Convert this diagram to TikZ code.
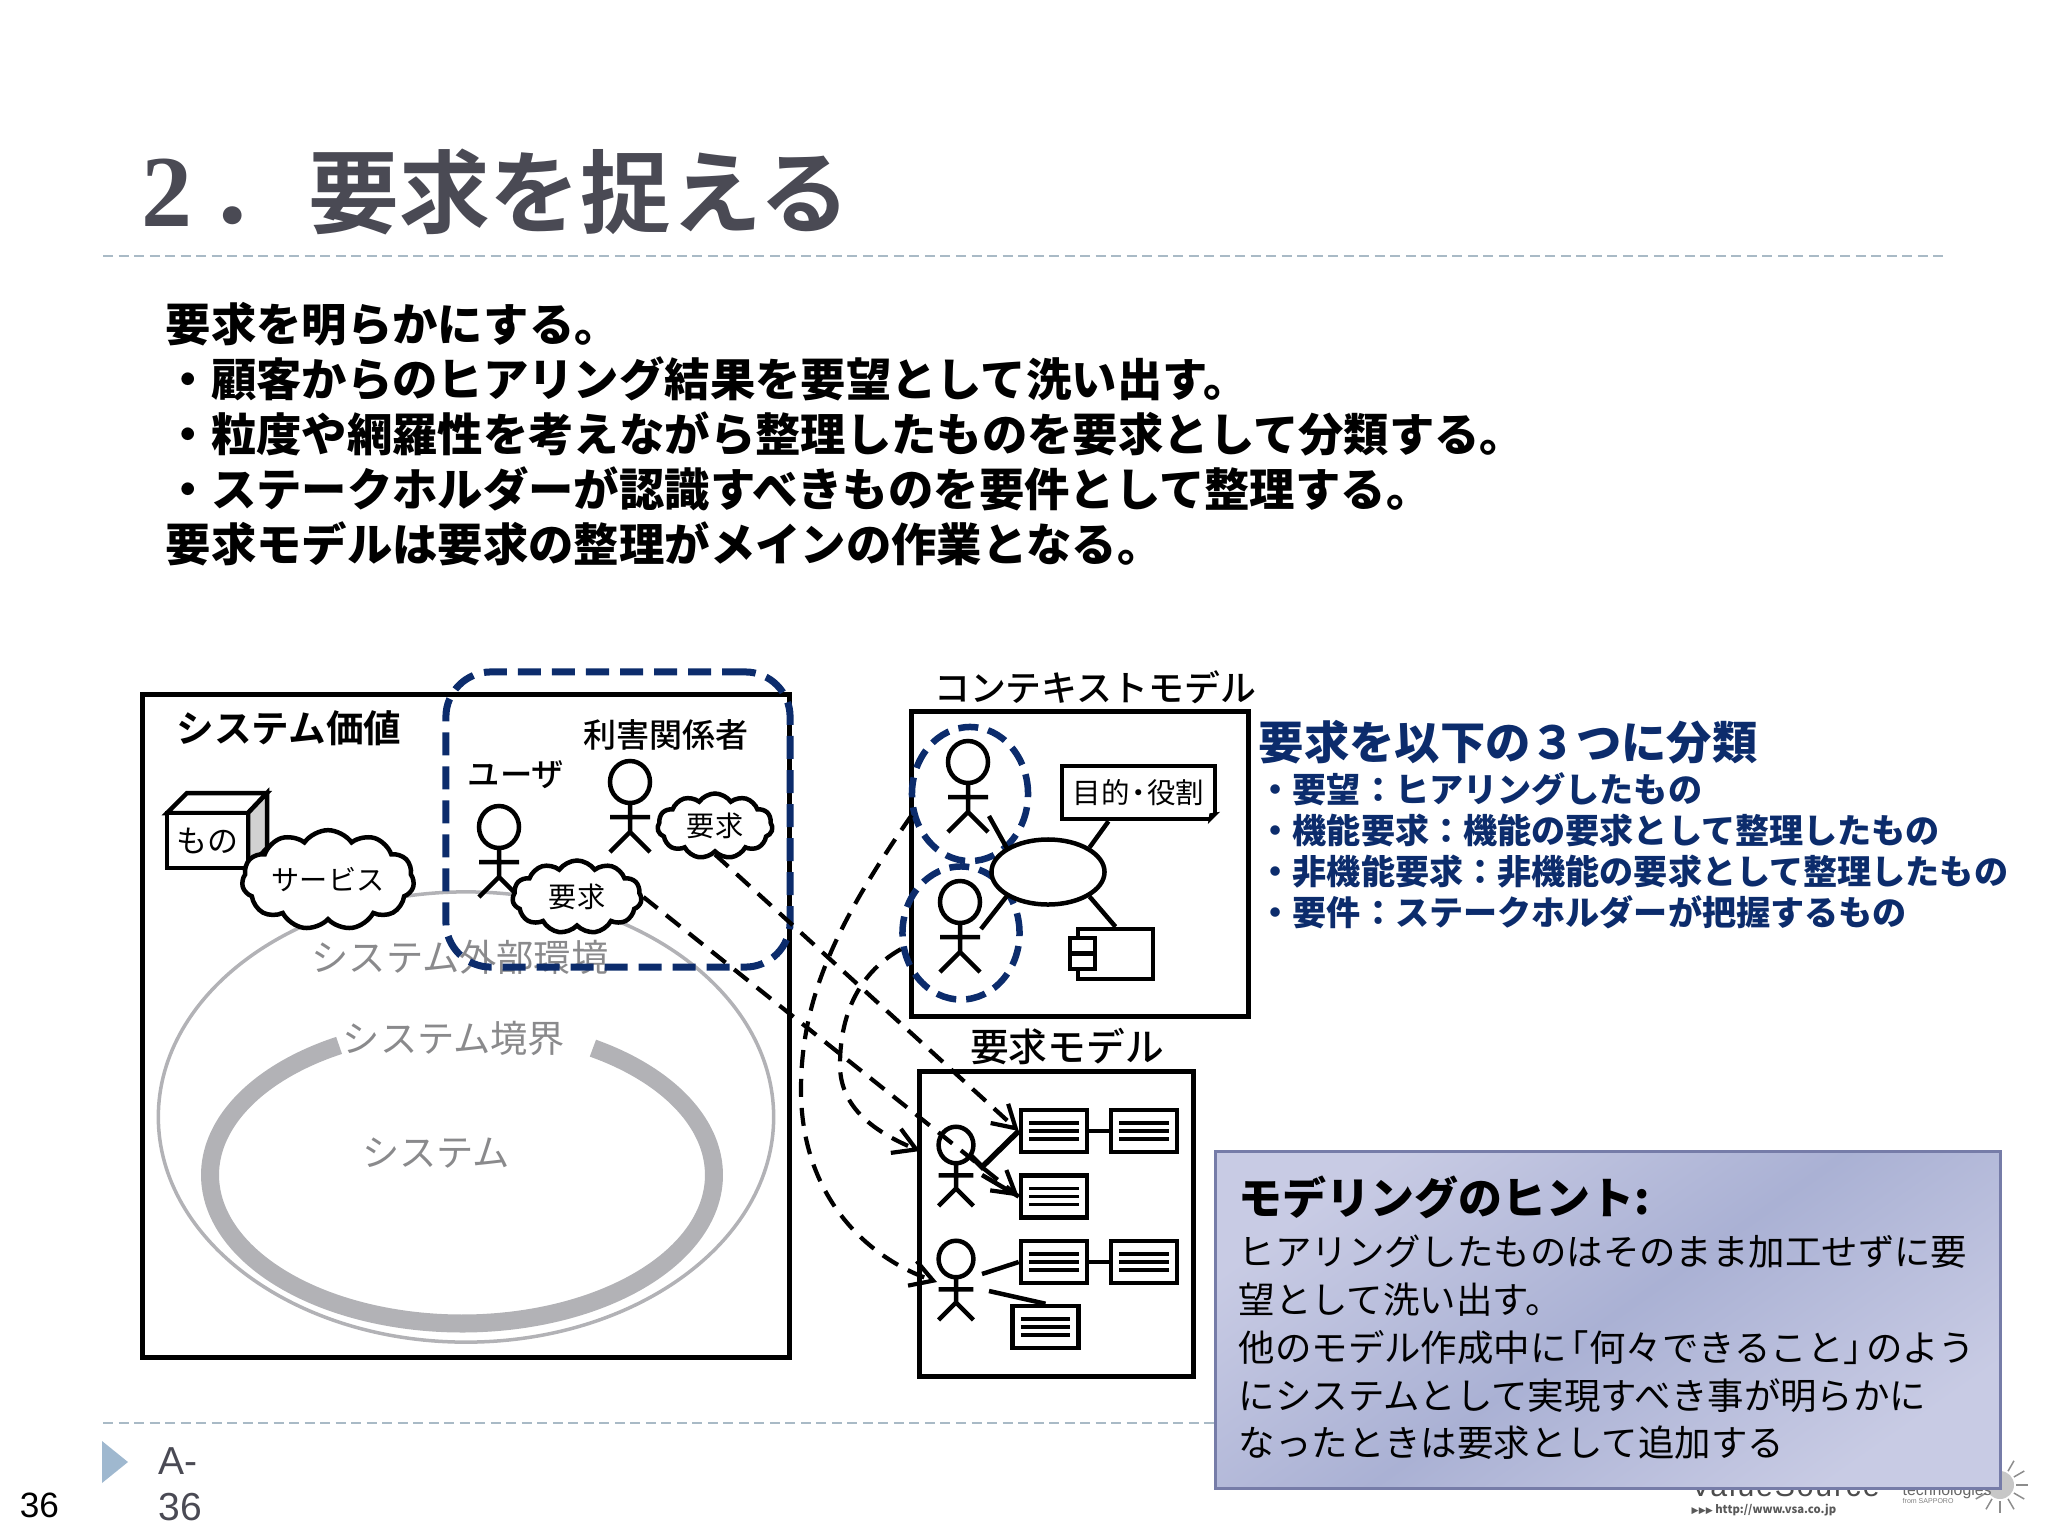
\documentclass[tikz,border=0pt]{standalone}
\usepackage{fontspec}
\setmainfont{Noto Sans CJK JP}
\newfontfamily\heavyjp{Noto Sans CJK JP Black}
\newfontfamily\boldjp{Noto Sans CJK JP Bold}
\newfontfamily\mediumjp{Noto Sans CJK JP Medium}
\newfontfamily\arialish{Liberation Sans}
\newfontfamily\serifnum{Liberation Serif Bold}
\newfontfamily\symfont{DejaVu Sans}
\usepackage{xcolor}
\definecolor{deepnavy}{RGB}{12,44,108}
\definecolor{titlegray}{RGB}{74,74,84}
\definecolor{rulegray}{RGB}{169,186,198}
\definecolor{markblue}{RGB}{159,184,207}
\definecolor{ringgray}{RGB}{178,178,182}
\definecolor{capgray}{RGB}{138,138,140}
\definecolor{tiplight}{RGB}{200,203,228}
\definecolor{tipdark}{RGB}{170,177,212}
\definecolor{tipedge}{RGB}{118,124,168}
\newcommand{\pxfont}[2]{\fontsize{#1pt}{#2pt}\selectfont}
\usetikzlibrary{
  shapes.geometric,
  shapes.symbols,
  arrows.meta,
  positioning
}

\begin{document}
\begin{tikzpicture}[
  x=0.01cm, y=-0.01cm,
  every node/.append style={inner sep=0pt},
  ln/.style={line width=0.045cm, black},
  rulerline/.style={rulegray, line width=0.025cm, dash pattern=on 0.1cm off 0.055cm},
  modelbox/.style={rectangle, draw=black, line width=0.05cm, minimum width=#1},
  navyring/.style={ellipse, draw=deepnavy, line width=0.065cm, dash pattern=on 0.2cm off 0.1cm},
  speech/.style={cloud, cloud puffs=11, cloud puff arc=110, aspect=2, draw=black, fill=white, line width=0.045cm, font=\pxfont{8}{10}},
  reqdoc/.style={rectangle, draw=black, fill=white, line width=0.045cm, minimum width=0.66cm, minimum height=0.42cm,
    path picture={\foreach \dy in {-0.08,0,0.08}
      \draw[black, line width=0.035cm] ([xshift=-0.245cm,yshift=\dy cm]path picture bounding box.center) -- ++(0.49cm,0);}},
  dasharr/.style={-{Straight Barb[length=0.22cm,width=0.26cm]}, line width=0.042cm, black, dash pattern=on 0.18cm off 0.11cm},
  graycap/.style={capgray, font=\pxfont{10.6}{12}},
  actor/.pic={
    \draw[ln] (0,0) ellipse[x radius=20,y radius=21];
    \draw[ln] (0,21) -- (0,50) (-20,35) -- (20,35) (-20,70) -- (0,50) -- (20,70);
  }
]
  \useasboundingbox (0,0) rectangle (2048,1536);

  % header
  \node[anchor=west, titlegray, font=\boldjp\pxfont{25.8}{30}] (title) at (141,192)
    {{\serifnum\pxfont{29}{30}2}\hspace{0.15cm}．\hspace{0.1cm}要求を捉える};
  \coordinate (rulela) at (103,256);
  \coordinate (rulera) at (1947,256);
  \draw[rulerline] (rulela) -- (rulera);

  \node[anchor=west, align=left, font=\heavyjp\pxfont{12.9}{15.65}] (intro) at (165,434)
    {要求を明らかにする。\\
     ・顧客からのヒアリング結果を要望として洗い出す。\\
     ・粒度や網羅性を考えながら整理したものを要求として分類する。\\
     ・ステークホルダーが認識すべきものを要件として整理する。\\
     要求モデルは要求の整理がメインの作業となる。};

  % system value
  \node[ellipse, draw=ringgray, line width=0.035cm, minimum width=6.15cm, minimum height=4.5cm] (outside) at (466,1117) {};
  \draw[ringgray, line width=0.18cm] plot[domain=-58.7:240.8, samples=90, smooth] ({462+252*cos(\x)},{1175+148.5*sin(\x)});
  \node[graycap] (outsidecap) at (460,957) {システム外部環境};
  \node[graycap] (bordercap) at (454,1038) {システム境界};
  \node[graycap] (syscap) at (436,1153) {システム};

  \node[modelbox=6.46cm, minimum height=6.63cm] (valuebox) at (466,1026) {};
  \node[font=\boldjp\pxfont{10.7}{12}] (valuecap) at (289,728) {システム価値};

  \draw[ln, fill=white] (167,813) -- (187,793) -- (267,793) -- (248,813) -- cycle;
  \draw[ln, fill=black!18] (248,813) -- (267,793) -- (267,848) -- (248,868) -- cycle;
  \node[rectangle, draw=black, fill=white, line width=0.045cm, minimum width=0.81cm, minimum height=0.55cm, font=\pxfont{8.8}{10}] (thing) at (207.5,840.5) {もの};

  \node[font=\mediumjp\pxfont{9.4}{11}] (stakecap) at (666,735) {利害関係者};
  \node[font=\mediumjp\pxfont{9.2}{11}] (usercap) at (516,775) {ユーザ};
  \pic (usera) at (499,827) {actor};
  \pic (stakea) at (630,782) {actor};

  \node[speech, minimum width=1.72cm, minimum height=0.74cm] (service) at (328,880) {サービス};
  \node[speech, minimum width=1.29cm, minimum height=0.73cm] (reqa) at (577,897) {要求};
  \node[speech, minimum width=1.15cm, minimum height=0.65cm] (reqb) at (715,826) {要求};

  \node[rectangle, draw=deepnavy, line width=0.07cm, rounded corners=0.45cm, dash pattern=on 0.23cm off 0.11cm,
    minimum width=3.44cm, minimum height=2.95cm] (stakeholders) at (618,819.5) {};

  % context model
  \node[modelbox=3.36cm, minimum height=3.04cm] (ctxbox) at (1080,864) {};
  \node[font=\mediumjp\pxfont{10.2}{12}] (ctxcap) at (1095,687) {コンテキストモデル};
  \pic (ctxa) at (968,762) {actor};
  \pic (ctxb) at (960,902) {actor};
  \node[navyring, minimum width=1.16cm, minimum height=1.34cm] (ringa) at (970,794) {};
  \node[navyring, minimum width=1.17cm, minimum height=1.33cm] (ringb) at (961,933) {};
  \node[ellipse, draw=black, fill=white, line width=0.045cm, minimum width=1.13cm, minimum height=0.65cm] (usecase) at (1048,872) {};
  \node[rectangle, draw=black, fill=white, line width=0.045cm, minimum width=1.53cm, minimum height=0.53cm, font=\pxfont{8.1}{10}] (goal) at (1138.5,792.5) {目的\kern-.2em・\kern-.2em役割};
  \fill[white] ([xshift=-0.08cm]goal.south east) -- (goal.south east) -- ([yshift=0.08cm]goal.south east) -- cycle;
  \draw[black, fill=black, line width=0.02cm] ([xshift=-0.08cm]goal.south east) -- ([yshift=0.08cm]goal.south east) -- ([shift={(-0.07cm,0.07cm)}]goal.south east) -- cycle;
  \node[rectangle, draw=black, line width=0.045cm, minimum width=0.75cm, minimum height=0.5cm] (comp) at (1115.5,954) {};
  \node[rectangle, draw=black, fill=white, line width=0.045cm, minimum width=0.25cm, minimum height=0.155cm] (compa) at (1082.5,945.5) {};
  \node[rectangle, draw=black, fill=white, line width=0.045cm, minimum width=0.25cm, minimum height=0.155cm] (compb) at (1082.5,961) {};

  \coordinate (ctxahand) at (989,816);
  \coordinate (ctxbhand) at (981,929);
  \draw[ln] (ctxahand) -- (usecase.north west);
  \draw[ln] (ctxbhand) -- (usecase.south west);
  \draw[ln] ([xshift=-0.3cm]goal.south) -- (usecase.north east);
  \draw[ln] (usecase.south east) -- (comp.north);

  % requirement model
  \node[modelbox=2.73cm, minimum height=3.04cm] (reqbox) at (1056.5,1224) {};
  \node[font=\mediumjp\pxfont{11}{12}] (reqcap) at (1067,1047) {要求モデル};
  \pic[scale=0.87] (reqactora) at (956,1145) {actor};
  \pic[scale=0.87] (reqactorb) at (956,1259) {actor};
  \node[reqdoc] (doca) at (1054,1131) {};
  \node[reqdoc] (docb) at (1144,1131) {};
  \node[reqdoc] (docc) at (1054,1196.5) {};
  \node[reqdoc] (docd) at (1054,1262) {};
  \node[reqdoc] (doce) at (1144,1262) {};
  \node[reqdoc] (docf) at (1045.5,1327) {};

  \coordinate (headc) at (971,1156);
  \coordinate (kneec) at (982,1167);
  \coordinate (handc) at (982,1175);
  \coordinate (handd) at (982,1274);
  \coordinate (footd) at (989,1291);
  \draw[ln, line width=0.055cm] (headc) -- (kneec) -- (doca.west);
  \draw[ln] (handc) -- (docc.west);
  \draw[ln] (handd) -- (docd.west);
  \draw[ln] (footd) -- (docf.north);
  \draw[ln] (doca) -- (docb);
  \draw[ln] (docd) -- (doce);

  % links between the models
  \coordinate (tipc) at (920,1151);
  \coordinate (tipd) at (937,1282);
  \draw[dasharr] (reqb.south) -- (doca.west);
  \draw[dasharr] (reqa.east) -- (docc.west);
  \draw[dasharr] (ringa.200) .. controls (835,925) and (801,1000) .. (801,1090) .. controls (801,1190) and (860,1255) .. (tipd);
  \draw[dasharr] (ringb.195) .. controls (855,975) and (840,1020) .. (840,1065) .. controls (840,1105) and (870,1130) .. (tipc);

  % three kinds of requirements
  \node[anchor=west, deepnavy, font=\heavyjp\pxfont{12.9}{14}] (kindcap) at (1258,742) {要求を以下の３つに分類};
  \node[anchor=west, align=left, deepnavy, font=\heavyjp\pxfont{9.7}{11.7}] (kinds) at (1258,851)
    {・要望：ヒアリングしたもの\\
     ・機能要求：機能の要求として整理したもの\\
     ・非機能要求：非機能の要求として整理したもの\\
     ・要件：ステークホルダーが把握するもの};

  % footer
  \coordinate (rulelb) at (103,1423);
  \coordinate (rulerb) at (1300,1423);
  \draw[rulerline] (rulelb) -- (rulerb);
  \fill[markblue] (102,1441) -- (128,1462) -- (102,1483) -- cycle;
  \node[font=\arialish\pxfont{10}{12}] (pagenum) at (39.5,1505) {36};
  \node[anchor=west, titlegray, align=left, font=\arialish\pxfont{11.1}{13.2}] (slideid) at (158,1484) {A-\\36};

  % logo, half under the hint box
  \foreach \ang in {-60,-30,...,150}
    \draw[black!45, line width=0.015cm] (2000,1485) ++(\ang:16 and 16) -- ++(\ang:12 and 12);
  \fill[black!22] (2000,1485) circle[radius=14];
  \node[anchor=base west, black!70, font=\arialish\pxfont{8.6}{12}\addfontfeature{LetterSpace=6}] (logoname) at (1690,1496) {ValueSource};
  \node[anchor=base west, black!60, font=\arialish\pxfont{4.5}{6}] (logotech) at (1902,1495) {technologies};
  \node[anchor=base west, black!50, font=\arialish\pxfont{2}{3}] (logofrom) at (1902,1503) {from SAPPORO};
  \node[anchor=west, black!65, font=\pxfont{3.2}{4}] (logourl) at (1691,1510) {{\symfont\pxfont{2.6}{4}▶▶▶} \textbf{http://www.vsa.co.jp}};

  % hint
  \node[rectangle, draw=tipedge, line width=0.03cm, left color=tiplight, right color=tiplight, middle color=tipdark, shading angle=35,
    minimum width=7.84cm, minimum height=3.36cm] (hint) at (1608,1320) {};
  \node[anchor=west, font=\heavyjp\pxfont{12.5}{14}] (hintcap) at (1238,1197) {モデリングのヒント:};
  \node[anchor=west, align=left, font=\pxfont{10.36}{13.57}] (hinttext) at (1238,1347.5)
    {ヒアリングしたものはそのまま加工せずに要\\
     望として洗い出す。\\
     他のモデル作成中に\kern-.38em「何々できること」\kern-.38emのよう\\
     にシステムとして実現すべき事が明らかに\\
     なったときは要求として追加する};
\end{tikzpicture}
\end{document}
